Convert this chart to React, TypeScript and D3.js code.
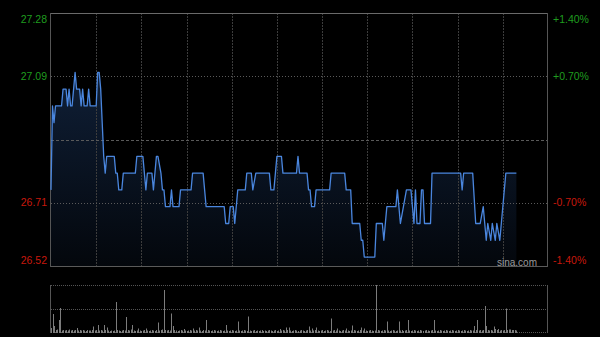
import React, { useEffect } from 'react';
import * as d3 from 'd3';

// ---- data ----
const prevClose = 26.9;
const pctTicks = [1.4, 0.7, -0.7, -1.4];
const totalMinutes = 330;
const gridMinutes = [30, 60, 90, 120, 150, 180, 210, 240, 270, 300];

const times = [0, 1, 2, 3, 7, 8, 10, 11, 12, 13, 14, 16, 17, 19, 20, 21, 22, 24, 25, 26, 30, 31, 32, 33, 34, 35, 36, 37, 42, 43, 44, 45, 47, 48, 56, 57, 61, 63, 64, 67, 68, 70, 71, 73, 74, 75, 76, 79, 80, 81, 85, 86, 93, 94, 101, 103, 115, 116, 118, 119, 121, 122, 124, 129, 130, 133, 134, 136, 145, 146, 148, 149, 150, 153, 154, 163, 164, 165, 170, 171, 172, 173, 175, 176, 185, 186, 195, 196, 199, 200, 205, 206, 207, 208, 215, 216, 220, 221, 223, 229, 230, 232, 234, 236, 239, 241, 242, 243, 245, 246, 247, 248, 252, 253, 272, 273, 274, 280, 282, 285, 287, 288, 289, 290, 292, 293, 295, 296, 298, 299, 302, 309];

const prices = [26.75, 27.0, 26.95, 27.0, 27.0, 27.05, 27.05, 27.0, 27.05, 27.0, 27.0, 27.1, 27.05, 27.05, 27.0, 27.05, 27.0, 27.0, 27.05, 27.0, 27.0, 27.1, 27.1, 27.05, 26.95, 26.85, 26.8, 26.85, 26.85, 26.8, 26.8, 26.75, 26.75, 26.8, 26.8, 26.85, 26.85, 26.75, 26.8, 26.8, 26.75, 26.85, 26.85, 26.8, 26.75, 26.75, 26.7, 26.7, 26.75, 26.7, 26.7, 26.75, 26.75, 26.8, 26.8, 26.7, 26.7, 26.65, 26.65, 26.7, 26.7, 26.65, 26.75, 26.75, 26.8, 26.8, 26.75, 26.8, 26.8, 26.75, 26.75, 26.8, 26.85, 26.85, 26.8, 26.8, 26.85, 26.8, 26.8, 26.75, 26.75, 26.7, 26.7, 26.75, 26.75, 26.8, 26.8, 26.75, 26.75, 26.65, 26.65, 26.6, 26.6, 26.55, 26.55, 26.65, 26.65, 26.6, 26.7, 26.7, 26.75, 26.65, 26.7, 26.75, 26.75, 26.65, 26.75, 26.65, 26.65, 26.75, 26.75, 26.65, 26.65, 26.8, 26.8, 26.75, 26.8, 26.8, 26.65, 26.65, 26.7, 26.65, 26.6, 26.65, 26.6, 26.65, 26.6, 26.65, 26.6, 26.65, 26.8, 26.8];

// volume per minute (thousand shares), minutes 0..309
const volumes = [
  40, 180, 60, 20, 25, 120, 240, 15, 20, 15,
  20, 15, 25, 15, 20, 15, 20, 40, 15, 20,
  15, 20, 15, 10, 20, 15, 15, 20, 55, 15,
  20, 70, 15, 20, 15, 70, 20, 45, 15, 10,
  15, 10, 15, 300, 20, 15, 10, 15, 20, 15,
  150, 20, 15, 25, 70, 15, 10, 15, 35, 15,
  10, 15, 20, 35, 15, 10, 15, 20, 15, 10,
  20, 95, 15, 20, 25, 420, 20, 15, 20, 15,
  185, 60, 20, 15, 10, 15, 20, 15, 30, 15,
  10, 15, 20, 15, 35, 15, 20, 15, 45, 15,
  10, 20, 15, 120, 20, 15, 10, 15, 20, 15,
  10, 15, 20, 15, 10, 15, 70, 15, 10, 15,
  20, 15, 10, 15, 105, 15, 10, 15, 20, 15,
  10, 155, 15, 10, 15, 20, 10, 15, 10, 15,
  20, 10, 15, 10, 15, 20, 15, 10, 15, 20,
  10, 15, 30, 15, 20, 15, 45, 20, 45, 15,
  10, 15, 20, 15, 10, 15, 20, 15, 10, 15,
  20, 55, 15, 35, 15, 20, 45, 15, 10, 15,
  20, 10, 15, 20, 15, 10, 135, 15, 20, 15,
  35, 15, 10, 15, 20, 15, 35, 15, 10, 15,
  65, 20, 15, 10, 15, 20, 45, 15, 35, 15,
  10, 15, 20, 15, 10, 15, 470, 20, 15, 10,
  15, 20, 15, 105, 15, 10, 15, 20, 15, 10,
  15, 105, 15, 20, 10, 15, 20, 120, 15, 10,
  15, 20, 15, 10, 15, 20, 15, 10, 15, 20,
  15, 10, 15, 20, 120, 15, 10, 15, 20, 15,
  10, 15, 20, 15, 10, 15, 20, 15, 10, 15,
  20, 15, 10, 15, 20, 15, 10, 15, 20, 15,
  15, 60, 20, 120, 15, 20, 15, 20, 260, 60,
  20, 15, 20, 15, 55, 30, 20, 30, 15, 20,
  15, 20, 235, 20, 25, 25, 20, 20, 20, 15,
];

const GREEN = '#1f9c1f';
const RED = '#c8180c';
const FONT = '"Liberation Sans", Arial, sans-serif';

export default function App() {
  useEffect(() => {
    document.body.style.margin = '0';
    document.body.style.background = '#000';
  }, []);

  const W = 600, H = 337;
  const left = 51, right = 548, top = 13, bottom = 266;
  const vTop = 285, vBottom = 332;
  const maxPct = pctTicks[0];

  const x = d3.scaleLinear().domain([0, totalMinutes]).range([left, right]);
  const y = d3.scaleLinear()
    .domain([prevClose * (1 - maxPct / 100), prevClose * (1 + maxPct / 100)])
    .range([bottom, top]);
  const yv = d3.scaleLinear().domain([0, d3.max(volumes) as number]).range([vBottom, vTop]);

  const pts = times.map((t, i) => [t, prices[i]] as [number, number]);
  const line = d3.line<[number, number]>().x(d => x(d[0])).y(d => y(d[1]));
  const area = d3.area<[number, number]>().x(d => x(d[0])).y0(bottom).y1(d => y(d[1]));

  const crisp = (v: number) => Math.round(v) + 0.5;

  return (
    <div style={{ position: 'fixed', left: 0, top: 0, width: W, height: H, background: '#000' }}>
      <svg width={W} height={H} style={{ display: 'block' }} fontFamily={FONT}>
        <defs>
          <linearGradient id="fillGrad" x1="0" y1={top} x2="0" y2={bottom} gradientUnits="userSpaceOnUse">
            <stop offset="0%" stopColor="#2a5596" stopOpacity={0.45} />
            <stop offset="100%" stopColor="#2a5596" stopOpacity={0.08} />
          </linearGradient>
        </defs>
        <rect x={0} y={0} width={W} height={H} fill="#000" />

        {/* area */}
        <path d={area(pts) || ''} fill="url(#fillGrad)" />

        {/* vertical grid */}
        {gridMinutes.map(m => (
          <line key={'vg' + m} x1={crisp(x(m))} x2={crisp(x(m))} y1={top} y2={bottom}
            stroke="#3c3c3c" strokeDasharray="2 1" />
        ))}
        {/* horizontal grid */}
        {pctTicks.filter(p => Math.abs(p) < maxPct).map(p => {
          const yy = crisp(y(prevClose * (1 + p / 100)));
          return <line key={'hg' + p} x1={left} x2={right} y1={yy} y2={yy} stroke="#5a5a5a" strokeDasharray="1 2" />;
        })}
        <line x1={left} x2={right} y1={crisp(y(prevClose))} y2={crisp(y(prevClose))} stroke="#5a5a5a" strokeDasharray="3 2" />

        {/* borders */}
        <line x1={left - 0.5} x2={right} y1={top + 0.5} y2={top + 0.5} stroke="#6a6a6a" />
        <line x1={left - 0.5} x2={right} y1={bottom + 0.5} y2={bottom + 0.5} stroke="#5a5a5a" />
        <line x1={left - 0.5} x2={left - 0.5} y1={top} y2={bottom + 1} stroke="#555" />
        <line x1={right - 0.5} x2={right - 0.5} y1={top} y2={bottom + 1} stroke="#555" />

        {/* price line */}
        <path d={line(pts) || ''} fill="none" stroke="#4a86de" strokeWidth={1.3} strokeLinejoin="round" />

        {/* axis labels */}
        {pctTicks.map(p => {
          const price = prevClose * (1 + p / 100);
          const ly = Math.min(Math.max(y(price), top + 6), bottom - 6);
          const color = p > 0 ? GREEN : RED;
          const pctLabel = (p > 0 ? '+' : '') + p.toFixed(2) + '%';
          return (
            <g key={'lb' + p}>
              <text x={47} y={ly} dy="0.35em" textAnchor="end" fontSize={10.5} fill={color}>{price.toFixed(2)}</text>
              <text x={553} y={ly} dy="0.35em" textAnchor="start" fontSize={10.5} fill={color}>{pctLabel}</text>
            </g>
          );
        })}

        <text x={537} y={262} dy="0.35em" textAnchor="end" fontSize={10} fill="#9a9a9a">sina.com</text>

        {/* volume panel */}
        <line x1={left} x2={right} y1={vTop + 0.5} y2={vTop + 0.5} stroke="#555" strokeDasharray="1 1" />
        <line x1={left} x2={right} y1={crisp((vTop + vBottom) / 2)} y2={crisp((vTop + vBottom) / 2)} stroke="#555" strokeDasharray="1 1" />
        <line x1={left} x2={right} y1={vBottom + 0.5} y2={vBottom + 0.5} stroke="#555" strokeDasharray="1 1" />
        <line x1={left - 0.5} x2={left - 0.5} y1={vTop} y2={vBottom + 1} stroke="#555" />
        <line x1={right - 0.5} x2={right - 0.5} y1={vTop} y2={vBottom + 1} stroke="#555" />
        {volumes.map((v, i) => (
          <line key={'v' + i} x1={crisp(x(i))} x2={crisp(x(i))} y1={vBottom + 1} y2={yv(v)} stroke="#7c7c7c" />
        ))}
      </svg>
    </div>
  );
}
